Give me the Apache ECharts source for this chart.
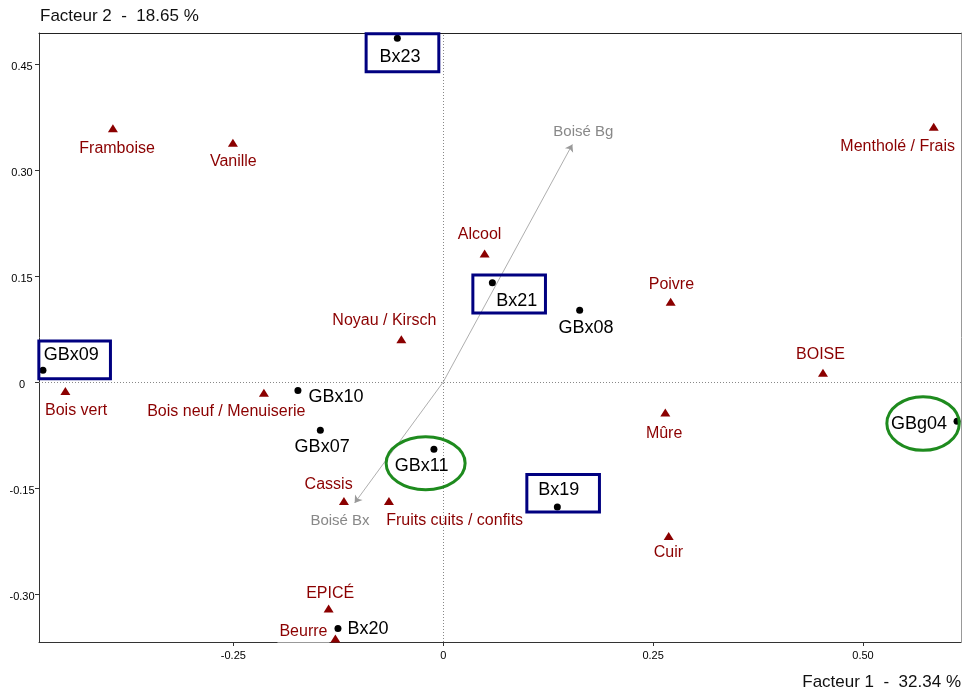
<!DOCTYPE html>
<html>
<head>
<meta charset="utf-8">
<script src="https://cdn.jsdelivr.net/npm/echarts@6/dist/echarts.min.js"></script>
<style>
html,body{margin:0;padding:0;background:#fff;}
#c{width:962px;height:693px;}
</style>
</head>
<body>
<div id="c"></div>
<script>
// ---- Data ----
const samples = ['Bx23','GBx09','GBx10','GBx07','GBx11','Bx21','GBx08','GBg04','Bx19','Bx20'];
const sampleX = [-0.0547,-0.4768,-0.1731,-0.1464,-0.0111,0.0585,0.1625,0.6120,0.1359,-0.1254];
const sampleY = [0.4860,0.0167,-0.0120,-0.0682,-0.0951,0.1402,0.1016,-0.0555,-0.1768,-0.3488];

const descriptors = ['Framboise','Vanille','Mentholé / Frais','Alcool','Noyau / Kirsch','Bois vert','Bois neuf / Menuiserie','Poivre','BOISE','Mûre','Cassis','Fruits cuits / confits','Cuir','EPICÉ','Beurre'];
const descX = [-0.3935,-0.2505,0.5842,0.0493,-0.0499,-0.4501,-0.2136,0.2709,0.4523,0.2645,-0.1183,-0.0647,0.2685,-0.1365,-0.1285];
const descY = [0.3588,0.3383,0.3610,0.1818,0.0606,-0.0126,-0.0154,0.1133,0.0129,-0.0432,-0.1682,-0.1682,-0.2178,-0.3204,-0.3629];

const supNames = ['Boisé Bg','Boisé Bx'];
const supX = [0.1538,-0.1055];
const supY = [0.3360,-0.1711];

const boxed = ['Bx23','GBx09','Bx21','Bx19'];
const circled = ['GBx11','GBg04'];

const xTicks = [-0.25,0,0.25,0.5];
const yTicks = [-0.30,-0.15,0,0.15,0.30,0.45];
const xTitle = 'Facteur 1  -  32.34 %';
const yTitle = 'Facteur 2  -  18.65 %';

// ---- Styles (label offsets in px, relative to mark) ----
const sampleLabelOff = {
  'Bx23':[2.6,18.7],'GBx09':[28.4,-15],'GBx10':[38,6.4],'GBx07':[1.8,17.3],'GBx11':[-12.3,17],
  'Bx21':[24.3,18.3],'GBx08':[6.3,18.3],'GBg04':[-38.1,3.3],'Bx19':[1.5,-16.7],'Bx20':[30,0]
};
const descLabelOff = {
  'Framboise':[4.2,20],'Vanille':[0.4,19],'Mentholé / Frais':[-36,20],'Alcool':[-5,-19.3],
  'Noyau / Kirsch':[-17,-19],'Bois vert':[10.8,19.3],'Bois neuf / Menuiserie':[-37.6,19],
  'Poivre':[0.7,-17.4],'BOISE':[-2.5,-18.4],'Mûre':[-1.2,21],'Cassis':[-15.3,-16.7],
  'Fruits cuits / confits':[65.7,19.3],'Cuir':[-0.3,16.6],'EPICÉ':[1.5,-15],'Beurre':[-31.9,-6.6]
};
const supLabelOff = {'Boisé Bg':[11,-13],'Boisé Bx':[-14.7,18.3]};
const hiShape = {
  'Bx23':{dx:-32.7,dy:-6,w:75.7,h:41},
  'GBx09':{dx:-5.6,dy:-30.7,w:74.6,h:40.7},
  'Bx21':{dx:-21,dy:-9.4,w:75.6,h:41},
  'Bx19':{dx:-32,dy:-34,w:75.6,h:40.6},
  'GBx11':{dx:-8.3,dy:14,rx:41,ry:28},
  'GBg04':{dx:-34,dy:2.3,rx:37.7,ry:28.3}
};

const FONT = '"Liberation Sans", Arial, sans-serif';
const RED = '#8B0000';

const chart = echarts.init(document.getElementById('c'), null, {renderer:'canvas'});

const sampleData = samples.map((n,i)=>({
  name:n, value:[sampleX[i],sampleY[i]],
  label:{offset:sampleLabelOff[n]}
}));
const descData = descriptors.map((n,i)=>{
  const d = {name:n, value:[descX[i],descY[i]], label:{offset:descLabelOff[n]}};
  if (n==='Beurre') { d.label.backgroundColor = '#fff'; d.label.padding = [1,2,4,2]; }
  return d;
});
const supData = supNames.map((n,i)=>({name:n, value:[supX[i],supY[i]], label:{offset:supLabelOff[n]}}));
const vecData = supNames.map((n,i)=>({coords:[[0,0],[supX[i],supY[i]]]}));
const hiNames = boxed.concat(circled);
const hiData = hiNames.map(n=>{const i=samples.indexOf(n); return {name:n, value:[sampleX[i],sampleY[i]]};});

const fmt = v => (Math.abs(v)<1e-9 ? '0' : v.toFixed(2));

chart.setOption({
  animation:false,
  backgroundColor:'#fff',
  textStyle:{fontFamily:FONT},
  grid:{left:39, top:33, right:1, bottom:51, containLabel:false},
  xAxis:[{
    type:'value', min:-0.4815, max:0.6167, position:'bottom',
    axisLine:{show:true, onZero:false, lineStyle:{color:'#333', width:1}},
    axisTick:{show:true, customValues:xTicks, length:4, inside:false, lineStyle:{color:'#333'}},
    axisLabel:{show:true, customValues:xTicks, formatter:fmt, color:'#000', fontSize:11, margin:8, fontFamily:FONT},
    splitLine:{show:false}
  },{
    type:'value', min:-0.4815, max:0.6167, position:'top',
    axisLine:{show:true, onZero:false, lineStyle:{color:'#222', width:1}},
    axisTick:{show:false}, axisLabel:{show:false}, splitLine:{show:false}
  }],
  yAxis:[{
    type:'value', min:-0.3678, max:0.4936, position:'left',
    axisLine:{show:true, onZero:false, lineStyle:{color:'#333', width:1}},
    axisTick:{show:true, customValues:yTicks, length:4, lineStyle:{color:'#333'}},
    axisLabel:{show:true, customValues:yTicks, formatter:fmt, color:'#000', fontSize:11, margin:17, align:'center', verticalAlign:'top', lineHeight:6, fontFamily:FONT},
    splitLine:{show:false}
  },{
    type:'value', min:-0.3678, max:0.4936, position:'right',
    axisLine:{show:true, onZero:false, lineStyle:{color:'#999', width:1}},
    axisTick:{show:false}, axisLabel:{show:false}, splitLine:{show:false}
  }],
  graphic:[
    {type:'text', left:40, top:8, style:{text:yTitle, fill:'#111', font:'17px '+FONT}},
    {type:'text', right:1, top:674, style:{text:xTitle, fill:'#111', font:'17px '+FONT}}
  ],
  series:[
    {
      type:'lines', coordinateSystem:'cartesian2d', xAxisIndex:0, yAxisIndex:0,
      data:vecData, symbol:['none','arrow'], symbolSize:7, silent:true, z:2,
      lineStyle:{color:'#999', width:0.8, opacity:1}
    },
    {
      type:'scatter', xAxisIndex:0, yAxisIndex:0, data:supData, symbolSize:1, silent:true, z:3,
      itemStyle:{color:'rgba(0,0,0,0)', opacity:1},
      label:{show:true, position:'inside', align:'center', verticalAlign:'middle', formatter:'{b}', color:'#888', fontSize:15, fontFamily:FONT},
      markLine:{
        silent:true, symbol:['none','none'], label:{show:false},
        lineStyle:{color:'#888', type:[1,2], width:1},
        data:[{xAxis:0},{yAxis:0}]
      }
    },
    {
      type:'scatter', xAxisIndex:0, yAxisIndex:0, data:descData, symbol:'triangle', symbolSize:[10,8], z:4,
      itemStyle:{color:RED, opacity:1},
      label:{show:true, position:'inside', align:'center', verticalAlign:'middle', formatter:'{b}', color:RED, fontSize:16, fontFamily:FONT}
    },
    {
      type:'scatter', xAxisIndex:0, yAxisIndex:0, data:sampleData, symbol:'circle', symbolSize:7, z:5,
      itemStyle:{color:'#000', opacity:1},
      label:{show:true, position:'inside', align:'center', verticalAlign:'middle', formatter:'{b}', color:'#000', fontSize:18, fontFamily:FONT}
    },
    {
      type:'custom', xAxisIndex:0, yAxisIndex:0, data:hiData, clip:false, silent:true, z:6,
      renderItem:function(params, api){
        const n = hiNames[params.dataIndex];
        const p = api.coord([api.value(0), api.value(1)]);
        const s = hiShape[n];
        if (s.w !== undefined) {
          return {type:'rect', shape:{x:p[0]+s.dx+1.5, y:p[1]+s.dy+1.5, width:s.w-3, height:s.h-3},
                  style:{fill:'none', stroke:'#000080', lineWidth:3}};
        }
        return {type:'ellipse', shape:{cx:p[0]+s.dx, cy:p[1]+s.dy, rx:s.rx-1.5, ry:s.ry-1.5},
                style:{fill:'none', stroke:'#1E8B1E', lineWidth:3}};
      }
    }
  ]
});
</script>
</body>
</html>
